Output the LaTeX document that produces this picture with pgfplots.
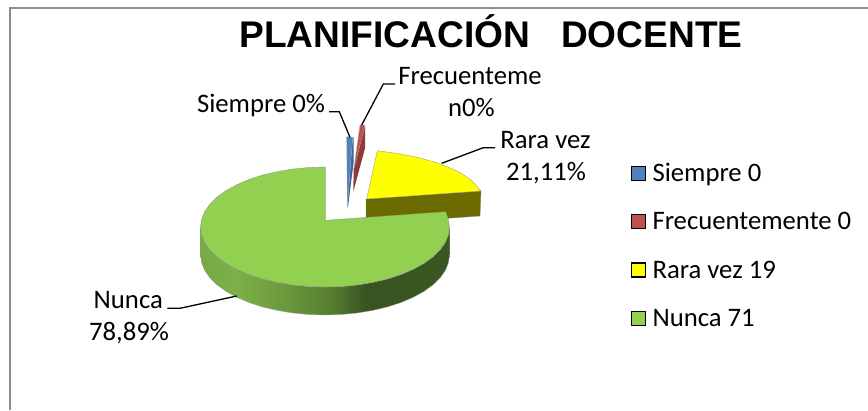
\documentclass[border=0pt]{standalone}
\usepackage{fontspec}
\setmainfont{Carlito}
\newfontfamily\arialf{Liberation Sans}
\usepackage{pgfplots}
\pgfplotsset{compat=1.18}
\definecolor{cblue}{HTML}{4F81BD}
\definecolor{cbluew}{HTML}{3A6596}
\definecolor{cred}{HTML}{C0504D}
\definecolor{credw}{HTML}{8E3A38}
\definecolor{cyel}{HTML}{FFFF00}
\definecolor{cyelw}{HTML}{6B6B00}
\definecolor{cgre}{HTML}{92D050}
\pgfdeclarehorizontalshading{wallg}{100bp}{
 rgb(0bp)=(0.47,0.66,0.27);
 rgb(25bp)=(0.47,0.66,0.27);
 rgb(32bp)=(0.49,0.69,0.28);
 rgb(42bp)=(0.42,0.60,0.24);
 rgb(52bp)=(0.33,0.48,0.19);
 rgb(58bp)=(0.22,0.33,0.13);
 rgb(75bp)=(0.23,0.34,0.13);
 rgb(100bp)=(0.23,0.34,0.13)}
\begin{document}
\begin{tikzpicture}
\path[use as bounding box] (0,0) rectangle (868pt,410pt);
\begin{axis}[
  at={(0,0)},anchor=south west,
  width=868pt,height=410pt,scale only axis,
  xmin=0,xmax=868,ymin=0,ymax=410,y dir=reverse,
  hide axis,clip=false,
  legend cell align=left,
  legend style={at={(axis cs:630.7,163)},anchor=north west,draw=none,fill=none,
    font=\fontsize{26.7}{26.7}\selectfont,inner sep=0pt,outer sep=0pt,
    row sep=30.9pt,nodes={inner sep=0pt,outer sep=0pt,anchor=base west,text depth=0pt}},
]
% frame
\addplot[forget plot,draw=black!45,line width=2pt] coordinates {(10,410)(10,7.5)(868,7.5)};
% green wall
\addplot[forget plot,shade,shading=wallg,draw=black!40,line width=.3pt] coordinates {
(200.5,227)(201.6,234.8)(204.7,242.5)(210,250)(217.2,257)(226.2,263.5)(237,269.4)(249.2,274.6)(262.8,279)(277.4,282.4)(292.8,285)(308.8,286.5)(325,287)
(341.2,286.5)(357.2,285)(372.6,282.4)(387.2,279)(400.8,274.6)(413,269.4)(423.8,263.5)(432.8,257)(440,250)(445.3,242.5)(448.4,234.8)(449.5,227)
(449.5,255)(448.4,262.8)(445.3,270.5)(440,278)(432.8,285)(423.8,291.5)(413,297.4)(400.8,302.6)(387.2,307)(372.6,310.4)(357.2,313)(341.2,314.5)(325,315)(308.8,314.5)(292.8,313)(277.4,310.4)(262.8,307)(249.2,302.6)(237,297.4)(226.2,291.5)(217.2,285)(210,278)(204.7,270.5)(201.6,262.8)(200.5,255)
} -- cycle;
% yellow wall
\addplot[forget plot,fill=cyelw,draw=black!50,line width=.3pt] coordinates {(366,199)(481,191)(480,216)(366,224)} -- cycle;
% sliver walls
\addplot[forget plot,fill=cbluew,draw=none] coordinates {(352.7,137.3)(353.7,137.5)(353.7,161.7)(348,207)(347.3,207)} -- cycle;
\addplot[forget plot,fill=credw,draw=none] coordinates {(365,125.3)(365,148.3)(353.3,191.7)(353.7,170)} -- cycle;
% top faces
\addplot[fill=cblue,draw=black!35,line width=.3pt,
  legend image code/.code={\draw[fill=cblue,draw=black,line width=1.3pt] (0.5pt,1pt) rectangle (14.5pt,15pt);\path (21.5pt,0pt);}]
  coordinates {(346.7,136.7)(352.7,137.3)(347.3,207)} -- cycle;
\addlegendentry{Siempre 0}
\addplot[fill=cred,draw=black!35,line width=.3pt,
  legend image code/.code={\draw[fill=cred,draw=black,line width=1.3pt] (0.5pt,1pt) rectangle (14.5pt,15pt);\path (21.5pt,0pt);}]
  coordinates {(360,125)(365,125.3)(353.7,170)} -- cycle;
\addlegendentry{Frecuentemente 0}
\addplot[fill=cyel,draw=black!45,line width=.3pt,
  legend image code/.code={\draw[fill=cyel,draw=black,line width=1.3pt] (0.5pt,1pt) rectangle (14.5pt,15pt);\path (21.5pt,0pt);}]
  coordinates {(366.7,199)(377.3,150.7)(396,153.3)(416,157)(436,162.4)(456,170.5)(463,174.5)(471,179.8)(481,191)} -- cycle;
\addlegendentry{Rara vez 19}
\addplot[fill=cgre,draw=black!45,line width=.3pt,
  legend image code/.code={\draw[fill=cgre,draw=black,line width=1.3pt] (0.5pt,1pt) rectangle (14.5pt,15pt);\path (21.5pt,0pt);}]
  coordinates {(325.7,167)(308.8,167.5)(292.8,169)(277.4,171.6)(262.8,175)(249.2,179.4)(237,184.6)(226.2,190.5)(217.2,197)(210,204)(204.7,211.5)(201.6,219.2)(200.5,227)
(201.6,234.8)(204.7,242.5)(210,250)(217.2,257)(226.2,263.5)(237,269.4)(249.2,274.6)(262.8,279)(277.4,282.4)(292.8,285)(308.8,286.5)(325,287)
(341.2,286.5)(357.2,285)(372.6,282.4)(387.2,279)(400.8,274.6)(413,269.4)(423.8,263.5)(432.8,257)(440,250)(445.3,242.5)(448.4,234.8)(449.5,227)(448.4,219.2)(445.7,211.7)(325.7,220.3)} -- cycle;
\addlegendentry{Nunca 71}
% leaders
\addplot[forget plot,black,line width=1.3pt] coordinates {(329,111.7)(339.3,111.7)(350,137.3)};
\addplot[forget plot,black,line width=1.3pt] coordinates {(395,84)(383.3,84)(361.7,125)};
\addplot[forget plot,black,line width=1.3pt] coordinates {(495,147.7)(483.3,147.7)(441.7,163.3)};
\addplot[forget plot,black,line width=1.3pt] coordinates {(167.3,308.3)(180,308.3)(236.7,296)};
% texts
\node[anchor=base,font=\arialf\bfseries\fontsize{37.1}{37}\selectfont,inner sep=0pt] at (axis cs:491,47) {PLANIFICACIÓN\ \ \ DOCENTE};
\tikzset{lab/.style={font=\fontsize{26.7}{26.7}\selectfont,inner sep=0pt,anchor=base}}
\node[lab] at (axis cs:261,112.5) {Siempre 0\%};
\node[lab] at (axis cs:470,84) {Frecuenteme};
\node[lab] at (axis cs:471.5,116.7) {n0\%};
\node[lab] at (axis cs:545.5,148) {Rara vez};
\node[lab] at (axis cs:546,180.7) {21,11\%};
\node[lab] at (axis cs:128.3,308.3) {Nunca};
\node[lab] at (axis cs:129,340.7) {78,89\%};
\end{axis}
\end{tikzpicture}
\end{document}
